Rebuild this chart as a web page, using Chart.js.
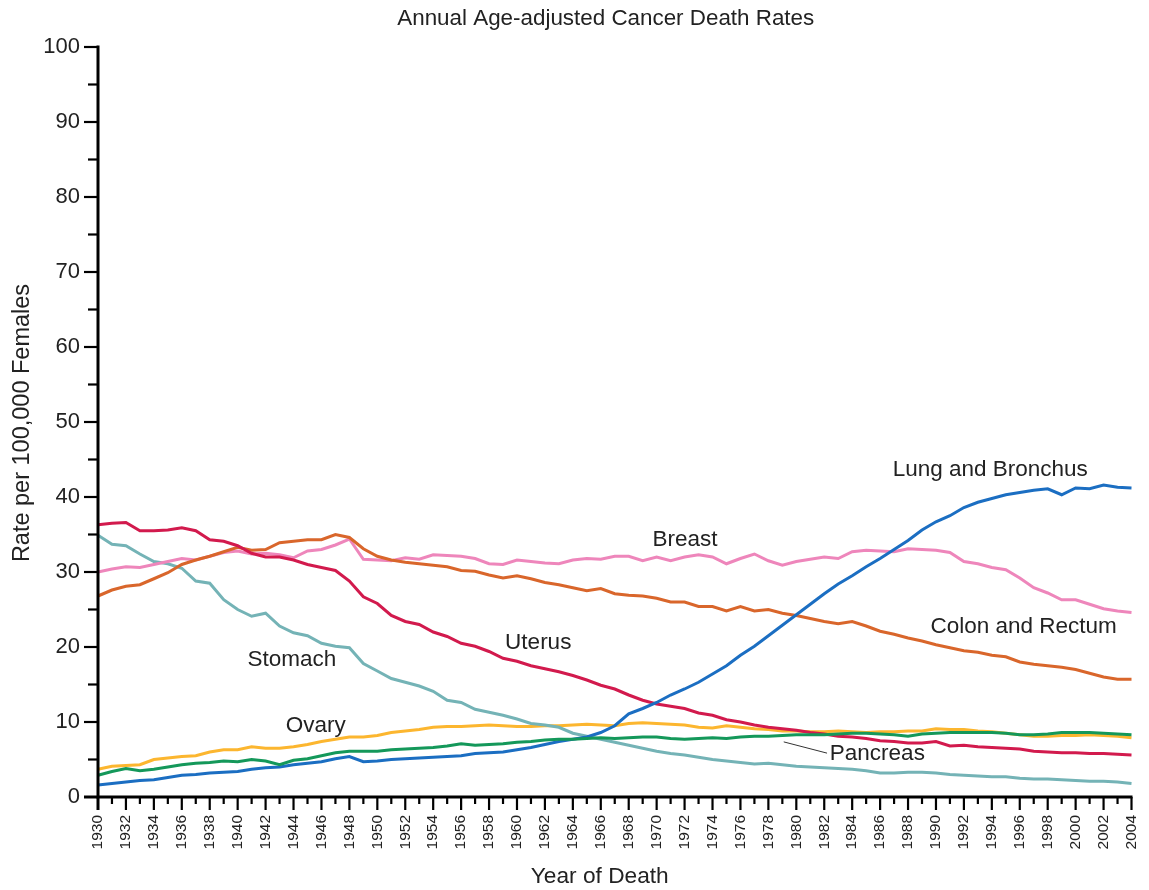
<!DOCTYPE html>
<html>
<head>
<meta charset="utf-8">
<title>Annual Age-adjusted Cancer Death Rates</title>
<script src="https://cdn.jsdelivr.net/npm/chart.js@4.4.1/dist/chart.umd.min.js"></script>
<style>
  html, body { margin: 0; padding: 0; background: #fff; }
  #wrap { width: 1149px; height: 890px; }
</style>
</head>
<body>
<div id="wrap"><canvas id="chart" width="1149" height="890"></canvas></div>
<script>
// Year of death, 1930-2004
const years = [
  1930, 1931, 1932, 1933, 1934, 1935, 1936, 1937, 1938, 1939,
  1940, 1941, 1942, 1943, 1944, 1945, 1946, 1947, 1948, 1949,
  1950, 1951, 1952, 1953, 1954, 1955, 1956, 1957, 1958, 1959,
  1960, 1961, 1962, 1963, 1964, 1965, 1966, 1967, 1968, 1969,
  1970, 1971, 1972, 1973, 1974, 1975, 1976, 1977, 1978, 1979,
  1980, 1981, 1982, 1983, 1984, 1985, 1986, 1987, 1988, 1989,
  1990, 1991, 1992, 1993, 1994, 1995, 1996, 1997, 1998, 1999,
  2000, 2001, 2002, 2003, 2004
];

// Age-adjusted death rates per 100,000 females
const lungBronchus = [
  1.6, 1.8, 2.0, 2.2, 2.3, 2.6, 2.9, 3.0, 3.2, 3.3,
  3.4, 3.7, 3.9, 4.0, 4.3, 4.5, 4.7, 5.1, 5.4, 4.7,
  4.8, 5.0, 5.1, 5.2, 5.3, 5.4, 5.5, 5.8, 5.9, 6.0,
  6.3, 6.6, 7.0, 7.4, 7.7, 8.0, 8.6, 9.5, 11.1, 11.8,
  12.6, 13.6, 14.4, 15.3, 16.4, 17.5, 18.9, 20.1, 21.5, 22.9,
  24.3, 25.7, 27.1, 28.4, 29.5, 30.7, 31.8, 33.0, 34.2, 35.6,
  36.7, 37.5, 38.6, 39.3, 39.8, 40.3, 40.6, 40.9, 41.1, 40.3,
  41.2, 41.1, 41.6, 41.3, 41.2
];
const breast = [
  30.0, 30.4, 30.7, 30.6, 31.0, 31.4, 31.8, 31.6, 32.1, 32.6,
  32.8, 32.4, 32.5, 32.3, 31.9, 32.8, 33.0, 33.6, 34.4, 31.7,
  31.6, 31.5, 31.9, 31.7, 32.3, 32.2, 32.1, 31.8, 31.1, 31.0,
  31.6, 31.4, 31.2, 31.1, 31.6, 31.8, 31.7, 32.1, 32.1, 31.5,
  32.0, 31.5, 32.0, 32.3, 32.0, 31.1, 31.8, 32.4, 31.5, 30.9,
  31.4, 31.7, 32.0, 31.8, 32.7, 32.9, 32.8, 32.7, 33.1, 33.0,
  32.9, 32.6, 31.4, 31.1, 30.6, 30.3, 29.2, 27.9, 27.2, 26.3,
  26.3, 25.7, 25.1, 24.8, 24.6
];
const colonRectum = [
  26.8, 27.6, 28.1, 28.3, 29.1, 29.9, 31.0, 31.6, 32.1, 32.7,
  33.3, 32.9, 33.0, 33.9, 34.1, 34.3, 34.3, 35.0, 34.6, 33.1,
  32.1, 31.6, 31.3, 31.1, 30.9, 30.7, 30.2, 30.1, 29.6, 29.2,
  29.5, 29.1, 28.6, 28.3, 27.9, 27.5, 27.8, 27.1, 26.9, 26.8,
  26.5, 26.0, 26.0, 25.4, 25.4, 24.8, 25.4, 24.8, 25.0, 24.5,
  24.2, 23.8, 23.4, 23.1, 23.4, 22.8, 22.1, 21.7, 21.2, 20.8,
  20.3, 19.9, 19.5, 19.3, 18.9, 18.7, 18.0, 17.7, 17.5, 17.3,
  17.0, 16.5, 16.0, 15.7, 15.7
];
const uterus = [
  36.3, 36.5, 36.6, 35.5, 35.5, 35.6, 35.9, 35.5, 34.3, 34.1,
  33.5, 32.5, 32.0, 32.0, 31.6, 31.0, 30.6, 30.2, 28.8, 26.7,
  25.8, 24.2, 23.4, 23.0, 22.0, 21.4, 20.5, 20.1, 19.4, 18.5,
  18.1, 17.5, 17.1, 16.7, 16.2, 15.6, 14.9, 14.4, 13.6, 12.9,
  12.4, 12.1, 11.8, 11.2, 10.9, 10.3, 10.0, 9.6, 9.3, 9.1,
  8.9, 8.6, 8.4, 8.1, 8.0, 7.8, 7.5, 7.4, 7.2, 7.2,
  7.4, 6.8, 6.9, 6.7, 6.6, 6.5, 6.4, 6.1, 6.0, 5.9,
  5.9, 5.8, 5.8, 5.7, 5.6
];
const stomach = [
  34.9, 33.7, 33.5, 32.4, 31.4, 31.1, 30.5, 28.8, 28.5, 26.3,
  25.0, 24.1, 24.5, 22.8, 21.9, 21.5, 20.5, 20.1, 19.9, 17.8,
  16.8, 15.8, 15.3, 14.8, 14.1, 12.9, 12.6, 11.7, 11.3, 10.9,
  10.4, 9.8, 9.6, 9.3, 8.5, 8.1, 7.7, 7.3, 6.9, 6.5,
  6.1, 5.8, 5.6, 5.3, 5.0, 4.8, 4.6, 4.4, 4.5, 4.3,
  4.1, 4.0, 3.9, 3.8, 3.7, 3.5, 3.2, 3.2, 3.3, 3.3,
  3.2, 3.0, 2.9, 2.8, 2.7, 2.7, 2.5, 2.4, 2.4, 2.3,
  2.2, 2.1, 2.1, 2.0, 1.8
];
const ovary = [
  3.7, 4.1, 4.2, 4.3, 5.0, 5.2, 5.4, 5.5, 6.0, 6.3,
  6.3, 6.7, 6.5, 6.5, 6.7, 7.0, 7.4, 7.7, 8.0, 8.0,
  8.2, 8.6, 8.8, 9.0, 9.3, 9.4, 9.4, 9.5, 9.6, 9.5,
  9.4, 9.4, 9.5, 9.5, 9.6, 9.7, 9.6, 9.5, 9.8, 9.9,
  9.8, 9.7, 9.6, 9.3, 9.2, 9.5, 9.3, 9.1, 9.0, 8.8,
  8.8, 8.7, 8.7, 8.8, 8.7, 8.6, 8.7, 8.7, 8.8, 8.8,
  9.1, 9.0, 9.0, 8.8, 8.7, 8.5, 8.3, 8.1, 8.1, 8.2,
  8.2, 8.3, 8.2, 8.1, 7.9
];
const pancreas = [
  2.9, 3.4, 3.8, 3.5, 3.7, 4.0, 4.3, 4.5, 4.6, 4.8,
  4.7, 5.0, 4.8, 4.3, 4.9, 5.1, 5.5, 5.9, 6.1, 6.1,
  6.1, 6.3, 6.4, 6.5, 6.6, 6.8, 7.1, 6.9, 7.0, 7.1,
  7.3, 7.4, 7.6, 7.7, 7.7, 7.8, 7.9, 7.8, 7.9, 8.0,
  8.0, 7.8, 7.7, 7.8, 7.9, 7.8, 8.0, 8.1, 8.1, 8.2,
  8.3, 8.3, 8.3, 8.4, 8.5, 8.5, 8.4, 8.3, 8.1, 8.4,
  8.5, 8.6, 8.6, 8.6, 8.6, 8.5, 8.3, 8.3, 8.4, 8.6,
  8.6, 8.6, 8.5, 8.4, 8.3
];

// Y axis range and tick steps
const yMin = 0;
const yMax = 100;
const yLabelStep = 10;
const yMinorStep = 5;

// Titles
const chartTitle = 'Annual Age-adjusted Cancer Death Rates';
const xTitle = 'Year of Death';
const yTitle = 'Rate per 100,000 Females';

// In-plot series names, anchored at (year, rate)
const seriesLabelText  = ['Lung and Bronchus', 'Breast', 'Colon and Rectum', 'Uterus', 'Stomach', 'Ovary', 'Pancreas'];
const seriesLabelYear  = [1986.9, 1969.7, 1989.6, 1959.15, 1940.7, 1943.45, 1982.4];
const seriesLabelValue = [43.65, 34.35, 22.75, 20.55, 18.25, 9.55, 5.8];
// Leader line from the pancreas curve to its name
const leaderYears  = [1979.1, 1982.2];
const leaderValues = [7.35, 5.85];

const FONT = '"Liberation Sans", Arial, Helvetica, sans-serif';
const TEXT = '#222222';

// fractional year -> pixel on the category axis
function yearPixel(x, yr) {
  const step = x.getPixelForTick(1) - x.getPixelForTick(0);
  return x.getPixelForTick(0) + (yr - years[0]) * step;
}

const axesAndLabels = {
  id: 'axesAndLabels',
  afterDatasetsDraw(chart) {
    const { ctx, chartArea: area, scales: { x, y } } = chart;
    ctx.save();
    ctx.strokeStyle = '#000';
    ctx.lineCap = 'butt';

    // y axis minor ticks (every 5) and major ticks (every 10)
    for (let v = yMin; v <= yMax; v += yMinorStep) {
      const py = y.getPixelForValue(v);
      const major = v % yLabelStep === 0;
      ctx.lineWidth = v === yMin ? 3 : 2.2;
      ctx.beginPath();
      ctx.moveTo(area.left, py);
      ctx.lineTo(area.left - (major ? 14 : 10), py);
      ctx.stroke();
    }
    // x axis ticks: long on even years, short on odd years
    for (let i = 0; i < years.length; i++) {
      const px = x.getPixelForTick(i);
      const major = i % 2 === 0;
      ctx.lineWidth = i === 0 ? 3 : 2.2;
      ctx.beginPath();
      ctx.moveTo(px, area.bottom);
      ctx.lineTo(px, area.bottom + (major ? 13 : 7));
      ctx.stroke();
    }
    // axis lines
    ctx.lineWidth = 3;
    ctx.beginPath();
    ctx.moveTo(area.left, y.getPixelForValue(yMax) - 1.5);
    ctx.lineTo(area.left, area.bottom + 1.5);
    ctx.moveTo(area.left - 1.5, area.bottom);
    ctx.lineTo(area.right + 1, area.bottom);
    ctx.stroke();

    // leader line for Pancreas
    ctx.lineWidth = 1;
    ctx.strokeStyle = '#333';
    ctx.beginPath();
    ctx.moveTo(yearPixel(x, leaderYears[0]), y.getPixelForValue(leaderValues[0]));
    ctx.lineTo(yearPixel(x, leaderYears[1]), y.getPixelForValue(leaderValues[1]));
    ctx.stroke();

    // series names
    ctx.fillStyle = TEXT;
    ctx.font = '22.5px ' + FONT;
    ctx.textAlign = 'left';
    ctx.textBaseline = 'middle';
    for (let i = 0; i < seriesLabelText.length; i++) {
      ctx.fillText(seriesLabelText[i], yearPixel(x, seriesLabelYear[i]), y.getPixelForValue(seriesLabelValue[i]));
    }

    // chart title and axis titles
    const midX = (area.left + area.right) / 2;
    ctx.textAlign = 'center';
    ctx.font = '22.4px ' + FONT;
    ctx.fillText(chartTitle, midX - 9, 19);
    ctx.font = '22.7px ' + FONT;
    ctx.fillText(xTitle, midX - 15, 877);
    ctx.translate(23, (area.top + area.bottom) / 2 + 1);
    ctx.rotate(-Math.PI / 2);
    ctx.font = '23.5px ' + FONT;
    ctx.fillText(yTitle, 0, 0);
    ctx.restore();
  }
};

const line = (label, data, color) => ({
  label, data,
  borderColor: color,
  backgroundColor: color,
  borderWidth: 3,
  pointRadius: 0,
  pointHoverRadius: 0,
  tension: 0,
  fill: false
});

new Chart(document.getElementById('chart'), {
  type: 'line',
  data: {
    labels: years,
    datasets: [
      line('Pancreas', pancreas, '#14985a'),
      line('Lung and Bronchus', lungBronchus, '#1b6ec2'),
      line('Uterus', uterus, '#d21a4d'),
      line('Colon and Rectum', colonRectum, '#d9662b'),
      line('Breast', breast, '#ee86bb'),
      line('Stomach', stomach, '#74b3b6'),
      line('Ovary', ovary, '#fcb62f')
    ]
  },
  options: {
    responsive: false,
    devicePixelRatio: 1,
    animation: false,
    events: [],
    layout: { padding: { left: 0, right: 17.5, top: 47, bottom: 0 } },
    plugins: {
      legend: { display: false },
      tooltip: { enabled: false },
      title: { display: false }
    },
    scales: {
      x: {
        type: 'category',
        offset: false,
        grid: { display: false, drawTicks: false },
        border: { display: false },
        ticks: {
          autoSkip: false,
          maxRotation: 90,
          minRotation: 90,
          padding: 18,
          color: TEXT,
          font: { family: FONT, size: 15.5 },
          callback: (v, i) => (i % 2 === 0 ? String(years[i]) : '')
        },
        afterFit: (s) => { s.height = 93; s.paddingLeft = 0; s.paddingRight = 0; }
      },
      y: {
        min: yMin,
        max: yMax,
        grid: { display: false, drawTicks: false },
        border: { display: false },
        ticks: {
          stepSize: yLabelStep,
          padding: 18,
          color: TEXT,
          font: { family: FONT, size: 22 }
        },
        afterFit: (s) => { s.width = 98; s.paddingTop = 0; s.paddingBottom = 0; }
      }
    }
  },
  plugins: [axesAndLabels]
});
</script>
</body>
</html>
